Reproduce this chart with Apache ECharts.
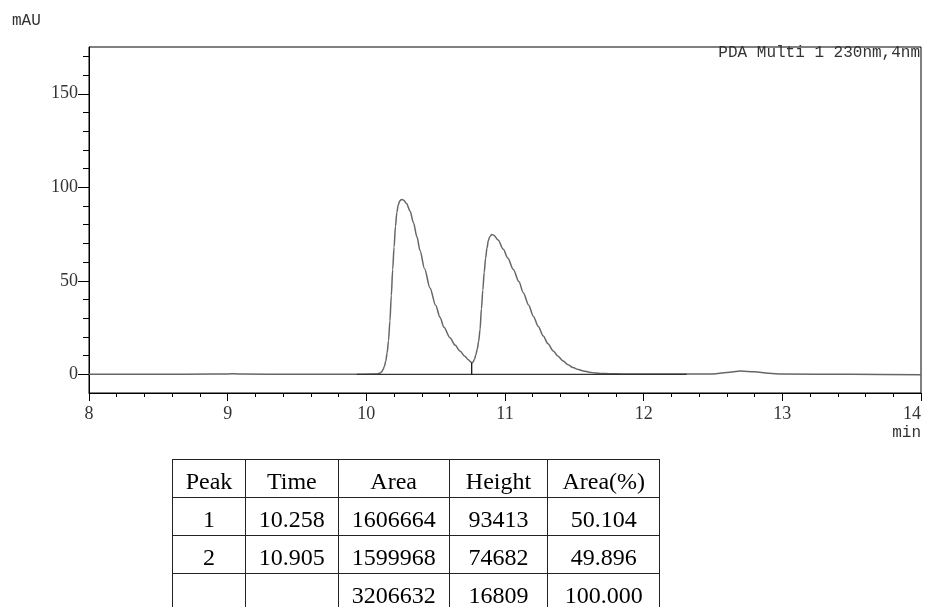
<!DOCTYPE html>
<html>
<head>
<meta charset="utf-8">
<script src="https://cdn.jsdelivr.net/npm/echarts@6/dist/echarts.min.js"></script>
<style>
html,body{margin:0;padding:0;background:#fff;overflow:hidden;width:927px;height:607px;}
#chart{position:absolute;left:0;top:0;width:927px;height:607px;}
#tbl{position:absolute;left:172px;top:459px;border-collapse:collapse;table-layout:fixed;font-family:"Liberation Serif","Times New Roman",serif;font-size:24px;color:#000;}
#tbl td{border:1.5px solid #222;text-align:center;padding:5px 0 0 0;height:31.2px;line-height:32px;box-sizing:content-box;}
</style>
</head>
<body>
<div id="chart"></div>
<table id="tbl"></table>
<script>
// chromatogram trace [time (min), absorbance (mAU)]
const traceTime = [8.0, 8.5, 8.9, 9.0, 9.05, 9.1, 9.5, 9.9, 10.05, 10.08, 10.10, 10.11, 10.12, 10.13, 10.14, 10.15, 10.16, 10.17, 10.18, 10.19, 10.20, 10.21, 10.22, 10.23, 10.24, 10.25, 10.258, 10.27, 10.29, 10.315, 10.34, 10.365, 10.387, 10.42, 10.459, 10.5, 10.531, 10.56, 10.603, 10.64, 10.675, 10.71, 10.735, 10.75, 10.76, 10.77, 10.78, 10.79, 10.80, 10.81, 10.82, 10.83, 10.84, 10.85, 10.86, 10.87, 10.88, 10.89, 10.905, 10.92, 10.95, 10.988, 11.02, 11.06, 11.1, 11.132, 11.17, 11.204, 11.24, 11.276, 11.31, 11.348, 11.38, 11.42, 11.455, 11.49, 11.53, 11.565, 11.61, 11.65, 11.7, 11.75, 11.85, 12.0, 12.3, 12.5, 12.6, 12.7, 12.8, 12.9, 13.0, 13.5, 14.0];
const traceValue = [0.0, 0.0, 0.1, 0.2, 0.3, 0.1, 0.0, 0.0, 0.1, 0.2, 0.7, 1.3, 2.4, 4.2, 7.0, 11.5, 18, 28.5, 42, 56, 68, 79, 86.5, 90.5, 92.6, 93.3, 93.4, 93.0, 91.3, 87.3, 81, 73.5, 66.2, 56.5, 46.2, 36.9, 30.5, 25.1, 19.6, 15.6, 12.5, 9.7, 7.8, 6.8, 6.2, 6.6, 8.0, 10.5, 13.5, 17.5, 24, 35, 45, 54.5, 62, 67.5, 71.5, 73.6, 74.7, 74.4, 71.8, 66.8, 62.2, 56.1, 49.6, 43.6, 37.1, 31.1, 25.6, 20.5, 16.3, 12.5, 9.8, 7.1, 5.1, 3.6, 2.5, 1.8, 1.1, 0.7, 0.45, 0.3, 0.2, 0.1, 0.1, 0.2, 0.9, 1.7, 1.3, 0.5, 0.1, 0.0, -0.2];
// integration baseline and peak split
const baselineTime = [9.93, 12.31];
const baselineValue = [0, 0];
const splitTime = 10.76;
const splitValue = 6.2;

const xTicks = [8, 9, 10, 11, 12, 13, 14];
const yMajorTicks = [0, 50, 100, 150];
const yMinorTicks = [10, 20, 30, 40, 60, 70, 80, 90, 110, 120, 130, 140, 160, 170];

// peak table
const tableHeader = ["Peak", "Time", "Area", "Height", "Area(%)"];
const peakNo = ["1", "2", ""];
const peakTime = ["10.258", "10.905", ""];
const peakArea = ["1606664", "1599968", "3206632"];
const peakHeight = ["93413", "74682", "16809"];
const peakAreaPct = ["50.104", "49.896", "100.000"];

const colW = [72, 91.6, 110.2, 97.5, 111];
const tbl = document.getElementById('tbl');
function addRow(cells){
  const tr = document.createElement('tr');
  cells.forEach((c,i)=>{const td=document.createElement('td');td.textContent=c;td.style.width=colW[i]+'px';tr.appendChild(td);});
  tbl.appendChild(tr);
}
addRow(tableHeader);
for(let i=0;i<peakNo.length;i++) addRow([peakNo[i],peakTime[i],peakArea[i],peakHeight[i],peakAreaPct[i]]);

const serif = '"Liberation Serif","Times New Roman",serif';
const mono = '"Liberation Mono","DejaVu Sans Mono",monospace';
const chart = echarts.init(document.getElementById('chart'), null, {renderer:'canvas', width:927, height:607});
const yMin = -10, yMax = 175;
chart.setOption({
  animation:false,
  backgroundColor:'#fff',
  grid:{left:89, right:6, top:47, bottom:214, show:true, borderColor:'#000', borderWidth:1, backgroundColor:'transparent', containLabel:false, outerBoundsMode:'none'},
  xAxis:[{
    type:'value', min:8, max:14, interval:1,
    axisLine:{show:true, onZero:false, lineStyle:{color:'#000', width:1}},
    axisTick:{show:true, length:8, inside:false, lineStyle:{color:'#000'}},
    minorTick:{show:true, splitNumber:5, length:4, lineStyle:{color:'#000'}},
    splitLine:{show:false},
    axisLabel:{color:'#333', fontFamily:serif, fontSize:18, margin:12, customValues: xTicks, alignMaxLabel:'right'},
    name:'min', nameLocation:'end', nameGap:0,
    nameTextStyle:{fontFamily:mono, fontSize:16, color:'#333', align:'right', verticalAlign:'top', padding:[32,0,0,0]}
  }],
  yAxis:[{
    type:'value', min:yMin, max:yMax,
    axisLine:{show:true, onZero:false, lineStyle:{color:'#000', width:1}},
    axisTick:{show:true, length:11, customValues:yMajorTicks, lineStyle:{color:'#000'}},
    splitLine:{show:false},
    axisLabel:{color:'#333', fontFamily:serif, fontSize:18, margin:11, customValues:yMajorTicks}
  },{
    type:'value', min:yMin, max:yMax, position:'left',
    axisLine:{show:false},
    axisTick:{show:true, length:6, customValues:yMinorTicks, lineStyle:{color:'#000'}},
    splitLine:{show:false},
    axisLabel:{show:false}
  }],
  graphic:[
    {type:'text', left:12, top:13, style:{text:'mAU', font:'16px '+mono, fill:'#333'}},
    {type:'text', right:7, top:45, style:{text:'PDA Multi 1 230nm,4nm', font:'16px '+mono, fill:'#333'}}
  ],
  series:[
    {type:'line', name:'baseline', data: baselineTime.map((t,i)=>[t, baselineValue[i]]), symbol:'none',
     lineStyle:{color:'#333', width:1.3}, z:3},
    {type:'line', name:'split', data:[[splitTime,0],[splitTime,splitValue]], symbol:'none',
     lineStyle:{color:'#000', width:1.2}, z:3},
    {type:'line', name:'PDA', data: traceTime.map((t,i)=>[t, traceValue[i]]), symbol:'none',
     smooth:0.3, smoothMonotone:'x', lineStyle:{color:'#666', width:1.5}, z:2}
  ]
});
</script>
</body>
</html>
